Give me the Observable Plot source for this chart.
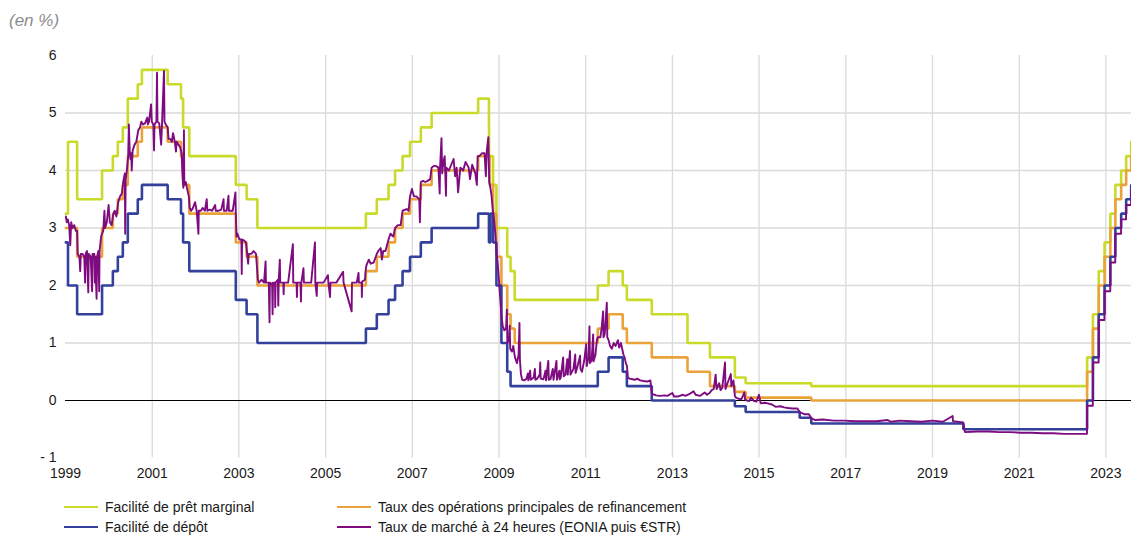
<!DOCTYPE html>
<html>
<head>
<meta charset="utf-8">
<script src="https://cdn.jsdelivr.net/npm/d3@7"></script>
<script src="https://cdn.jsdelivr.net/npm/@observablehq/plot@0.6"></script>
<style>
  body { margin: 0; background: #fff; font-family: "Liberation Sans", Arial, sans-serif; }
  #unit { height: 35px; font-style: italic; color: #8c8c8c; font-size: 17px; line-height: 42px; padding-left: 9px; box-sizing: border-box; }
  #chart svg { display: block; }
  #legend { position: relative; height: 44px; }
  .item { position: absolute; display: flex; align-items: center; font-size: 14px; color: #1a1a1a; white-space: nowrap; height: 20px; }
  .sw { width: 34px; height: 2.5px; margin-right: 7px; }
</style>
</head>
<body>
<div id="unit">(en %)</div>
<div id="chart"></div>
<div id="legend"></div>
<script>
// ---- Data (ECB key rates, %) ----
const seriesNames = [
  "Facilité de prêt marginal",
  "Taux des opérations principales de refinancement",
  "Facilité de dépôt",
  "Taux de marché à 24 heures (EONIA puis €STR)"
];
const seriesColors = ["#c9da2b", "#e9a33a", "#33419c", "#7e0b80"];

const marginalLending = [
  ["1999-01-04",3.25],["1999-01-22",4.50],["1999-04-09",3.50],["1999-11-05",4.00],["2000-02-04",4.25],
  ["2000-03-17",4.50],["2000-04-28",4.75],["2000-06-09",5.25],["2000-09-01",5.50],["2000-10-06",5.75],
  ["2001-05-11",5.50],["2001-08-31",5.25],["2001-09-18",4.75],["2001-11-09",4.25],["2002-12-06",3.75],
  ["2003-03-07",3.50],["2003-06-06",3.00],["2005-12-06",3.25],["2006-03-08",3.50],["2006-06-15",3.75],
  ["2006-08-09",4.00],["2006-10-11",4.25],["2006-12-13",4.50],["2007-03-14",4.75],["2007-06-13",5.00],
  ["2008-07-09",5.25],["2008-10-08",4.75],["2008-10-09",4.25],["2008-11-12",3.75],["2008-12-10",3.00],
  ["2009-03-11",2.50],["2009-04-08",2.25],["2009-05-13",1.75],["2011-04-13",2.00],["2011-07-13",2.25],
  ["2011-11-09",2.00],["2011-12-14",1.75],["2012-07-11",1.50],["2013-05-08",1.00],["2013-11-13",0.75],
  ["2014-06-11",0.40],["2014-09-10",0.30],["2016-03-16",0.25],["2022-07-27",0.75],["2022-09-14",1.50],
  ["2022-11-02",2.25],["2022-12-21",2.75],["2023-02-08",3.25],["2023-03-22",3.75],["2023-05-10",4.00],
  ["2023-06-21",4.25],["2023-08-02",4.50],["2023-08-05",4.50]
];

const mainRefi = [
  ["1999-01-04",3.00],["1999-04-09",2.50],["1999-11-05",3.00],["2000-02-04",3.25],["2000-03-17",3.50],
  ["2000-04-28",3.75],["2000-06-09",4.25],["2000-09-01",4.50],["2000-10-06",4.75],["2001-05-11",4.50],
  ["2001-08-31",4.25],["2001-09-18",3.75],["2001-11-09",3.25],["2002-12-06",2.75],["2003-03-07",2.50],
  ["2003-06-06",2.00],["2005-12-06",2.25],["2006-03-08",2.50],["2006-06-15",2.75],["2006-08-09",3.00],
  ["2006-10-11",3.25],["2006-12-13",3.50],["2007-03-14",3.75],["2007-06-13",4.00],["2008-07-09",4.25],
  ["2008-10-15",3.75],["2008-11-12",3.25],["2008-12-10",2.50],["2009-01-21",2.00],["2009-03-11",1.50],
  ["2009-04-08",1.25],["2009-05-13",1.00],["2011-04-13",1.25],["2011-07-13",1.50],["2011-11-09",1.25],
  ["2011-12-14",1.00],["2012-07-11",0.75],["2013-05-08",0.50],["2013-11-13",0.25],["2014-06-11",0.15],
  ["2014-09-10",0.05],["2016-03-16",0.00],["2022-07-27",0.50],["2022-09-14",1.25],["2022-11-02",2.00],
  ["2022-12-21",2.50],["2023-02-08",3.00],["2023-03-22",3.50],["2023-05-10",3.75],["2023-06-21",4.00],
  ["2023-08-02",4.25],["2023-08-05",4.25]
];

const depositFacility = [
  ["1999-01-04",2.75],["1999-01-22",2.00],["1999-04-09",1.50],["1999-11-05",2.00],["2000-02-04",2.25],
  ["2000-03-17",2.50],["2000-04-28",2.75],["2000-06-09",3.25],["2000-09-01",3.50],["2000-10-06",3.75],
  ["2001-05-11",3.50],["2001-08-31",3.25],["2001-09-18",2.75],["2001-11-09",2.25],["2002-12-06",1.75],
  ["2003-03-07",1.50],["2003-06-06",1.00],["2005-12-06",1.25],["2006-03-08",1.50],["2006-06-15",1.75],
  ["2006-08-09",2.00],["2006-10-11",2.25],["2006-12-13",2.50],["2007-03-14",2.75],["2007-06-13",3.00],
  ["2008-07-09",3.25],["2008-10-08",2.75],["2008-10-20",3.25],["2008-11-12",2.75],["2008-12-10",2.00],
  ["2009-01-21",1.00],["2009-03-11",0.50],["2009-04-08",0.25],["2011-04-13",0.50],["2011-07-13",0.75],
  ["2011-11-09",0.50],["2011-12-14",0.25],["2012-07-11",0.00],["2014-06-11",-0.10],["2014-09-10",-0.20],
  ["2015-12-09",-0.30],["2016-03-16",-0.40],["2019-09-18",-0.50],["2022-07-27",0.00],["2022-09-14",0.75],
  ["2022-11-02",1.50],["2022-12-21",2.00],["2023-02-08",2.50],["2023-03-22",3.00],["2023-05-10",3.25],
  ["2023-06-21",3.50],["2023-08-02",3.75],["2023-08-05",3.75]
];

const overnightRate = [
  ["1999-01-04",3.20],["1999-01-12",3.10],["1999-01-20",3.15],["1999-02-01",3.05],["1999-02-10",2.70],
  ["1999-02-18",3.10],["1999-03-01",3.00],["1999-03-15",3.05],["1999-03-30",2.95],["1999-04-09",2.95],
  ["1999-04-14",2.55],["1999-04-28",2.50],["1999-05-05",2.25],["1999-05-10",2.55],["1999-05-25",2.55],
  ["1999-06-08",2.50],["1999-06-15",2.05],["1999-06-20",2.55],["1999-07-01",2.60],["1999-07-12",1.88],
  ["1999-07-16",2.55],["1999-08-01",2.50],["1999-08-13",1.90],["1999-08-17",2.55],["1999-09-01",2.55],
  ["1999-09-05",2.05],["1999-09-08",2.50],["1999-09-20",1.77],["1999-09-24",2.50],["1999-10-05",2.60],
  ["1999-10-12",1.90],["1999-10-15",2.60],["1999-10-28",2.85],["1999-11-05",2.90],["1999-11-15",2.95],
  ["1999-11-25",3.30],["1999-12-01",3.00],["1999-12-15",3.10],["1999-12-30",3.40],["2000-01-10",3.10],
  ["2000-01-25",3.05],["2000-02-08",3.25],["2000-02-20",3.30],["2000-03-05",3.20],["2000-03-20",3.45],
  ["2000-04-05",3.55],["2000-04-20",3.60],["2000-05-01",3.80],["2000-05-15",3.95],["2000-05-18",2.90],
  ["2000-05-22",3.85],["2000-06-01",4.00],["2000-06-12",4.25],["2000-06-18",4.80],["2000-06-25",4.35],
  ["2000-07-01",4.20],["2000-07-08",4.30],["2000-07-12",4.00],["2000-07-20",4.35],["2000-08-05",4.45],
  ["2000-08-20",4.50],["2000-09-05",4.70],["2000-09-20",4.75],["2000-10-01",4.85],["2000-10-15",4.80],
  ["2000-11-01",4.82],["2000-11-20",4.92],["2000-11-25",4.80],["2000-12-05",4.85],["2000-12-22",5.15],
  ["2000-12-28",4.85],["2001-01-10",4.80],["2001-01-16",4.35],["2001-01-20",4.80],["2001-02-05",4.85],
  ["2001-02-10",5.70],["2001-02-14",4.85],["2001-03-01",4.82],["2001-03-17",4.45],["2001-03-25",4.85],
  ["2001-04-10",5.73],["2001-04-14",4.85],["2001-04-25",4.80],["2001-05-11",4.75],["2001-05-18",4.55],
  ["2001-06-01",4.55],["2001-06-15",4.50],["2001-06-25",4.65],["2001-07-10",4.50],["2001-07-20",4.33],
  ["2001-07-25",4.50],["2001-08-10",4.45],["2001-08-25",4.40],["2001-09-05",4.30],["2001-09-12",3.95],
  ["2001-09-20",3.70],["2001-09-25",4.70],["2001-09-28",3.75],["2001-10-10",3.80],["2001-10-25",3.65],
  ["2001-11-05",3.55],["2001-11-12",3.35],["2001-11-25",3.30],["2001-12-10",3.35],["2001-12-28",3.45],
  ["2002-01-10",3.30],["2002-01-25",2.90],["2002-01-28",3.30],["2002-02-15",3.30],["2002-03-01",3.35],
  ["2002-03-20",3.30],["2002-04-05",3.50],["2002-04-10",3.30],["2002-05-01",3.32],["2002-05-20",3.30],
  ["2002-06-15",3.40],["2002-06-20",3.30],["2002-07-15",3.30],["2002-08-05",3.32],["2002-08-25",3.50],
  ["2002-08-28",3.30],["2002-09-20",3.30],["2002-10-05",3.56],["2002-10-09",3.30],["2002-11-10",3.30],
  ["2002-12-03",3.62],["2002-12-06",3.25],["2002-12-12",2.85],["2002-12-20",2.90],["2003-01-05",2.80],
  ["2003-01-22",2.80],["2003-01-25",2.20],["2003-01-28",2.80],["2003-02-15",2.78],["2003-03-01",2.75],
  ["2003-03-12",2.55],["2003-03-20",2.38],["2003-03-25",2.55],["2003-04-15",2.55],["2003-05-05",2.60],
  ["2003-05-25",2.55],["2003-06-10",2.10],["2003-06-20",2.05],["2003-07-10",2.10],["2003-08-01",2.05],
  ["2003-08-14",2.42],["2003-08-17",2.05],["2003-09-10",2.05],["2003-09-16",1.36],["2003-09-19",2.05],
  ["2003-10-08",2.02],["2003-10-12",1.50],["2003-10-15",2.05],["2003-11-01",2.05],["2003-11-03",1.62],
  ["2003-11-06",2.05],["2003-11-25",2.10],["2003-11-29",1.65],["2003-12-02",2.05],["2003-12-12",2.45],
  ["2003-12-15",2.05],["2004-01-10",2.05],["2004-01-13",1.85],["2004-01-16",2.05],["2004-02-20",2.05],
  ["2004-03-31",2.72],["2004-04-03",2.05],["2004-05-01",2.05],["2004-05-04",1.80],["2004-05-07",2.05],
  ["2004-06-03",2.05],["2004-06-07",1.72],["2004-06-10",2.05],["2004-06-28",2.30],["2004-07-02",2.05],
  ["2004-09-01",2.05],["2004-10-03",2.75],["2004-10-06",2.05],["2004-10-18",1.82],["2004-10-21",2.05],
  ["2004-12-15",2.05],["2005-01-20",2.18],["2005-01-24",2.05],["2005-02-07",1.80],["2005-02-10",2.05],
  ["2005-04-01",2.05],["2005-05-28",2.24],["2005-06-01",2.05],["2005-08-08",1.55],["2005-08-11",2.05],
  ["2005-09-20",2.05],["2005-10-05",2.22],["2005-10-08",2.05],["2005-11-01",2.05],["2005-11-02",1.80],
  ["2005-11-05",2.07],["2005-11-28",2.10],["2005-12-06",2.30],["2005-12-12",2.36],["2005-12-31",2.45],
  ["2006-01-15",2.38],["2006-02-10",2.40],["2006-03-08",2.55],["2006-03-20",2.60],["2006-04-10",2.65],
  ["2006-04-20",2.45],["2006-05-01",2.60],["2006-05-20",2.60],["2006-06-15",2.80],["2006-07-01",2.90],
  ["2006-07-25",2.85],["2006-08-09",3.00],["2006-09-01",3.05],["2006-09-25",3.05],["2006-10-11",3.30],
  ["2006-11-15",3.33],["2006-12-01",3.30],["2006-12-13",3.55],["2006-12-29",3.68],["2007-01-15",3.55],
  ["2007-02-05",3.55],["2007-03-01",3.50],["2007-03-06",3.10],["2007-03-14",3.80],["2007-04-01",3.82],
  ["2007-04-20",3.80],["2007-05-10",3.82],["2007-06-01",3.85],["2007-06-13",4.05],["2007-07-01",4.08],
  ["2007-07-20",4.08],["2007-08-09",4.05],["2007-08-20",3.60],["2007-08-23",4.05],["2007-09-04",4.56],
  ["2007-09-10",3.95],["2007-09-20",4.15],["2007-10-01",4.25],["2007-10-12",3.56],["2007-10-15",4.05],
  ["2007-11-05",4.00],["2007-11-25",4.10],["2007-12-15",4.20],["2007-12-28",3.90],["2008-01-10",4.05],
  ["2008-01-22",3.62],["2008-02-10",4.05],["2008-03-05",4.00],["2008-03-25",4.15],["2008-04-20",4.05],
  ["2008-05-01",3.85],["2008-05-20",4.10],["2008-06-15",3.95],["2008-06-28",3.75],["2008-07-05",4.25],
  ["2008-07-20",4.25],["2008-08-10",4.30],["2008-09-01",4.30],["2008-09-12",3.90],["2008-09-20",4.35],
  ["2008-10-03",4.58],["2008-10-10",3.80],["2008-10-20",3.70],["2008-10-30",3.56],["2008-11-10",3.30],
  ["2008-11-20",3.15],["2008-12-01",2.90],["2008-12-10",2.60],["2008-12-20",2.40],["2008-12-31",2.10],
  ["2009-01-10",1.80],["2009-01-22",1.45],["2009-02-01",1.30],["2009-02-15",1.22],["2009-03-01",1.25],
  ["2009-03-08",1.58],["2009-03-12",1.00],["2009-03-25",1.05],["2009-04-01",1.30],["2009-04-05",0.90],
  ["2009-04-20",0.85],["2009-05-01",0.95],["2009-05-15",0.75],["2009-06-01",0.65],["2009-06-15",0.80],
  ["2009-06-22",1.35],["2009-06-26",0.70],["2009-07-05",0.45],["2009-07-15",0.36],["2009-08-01",0.35],
  ["2009-08-20",0.38],["2009-09-01",0.47],["2009-09-05",0.35],["2009-09-20",0.52],["2009-09-25",0.36],
  ["2009-10-20",0.40],["2009-10-30",0.55],["2009-11-03",0.36],["2009-11-15",0.37],["2009-12-10",0.45],
  ["2009-12-14",0.66],["2009-12-18",0.38],["2010-01-10",0.37],["2010-01-28",0.52],["2010-02-01",0.35],
  ["2010-02-20",0.69],["2010-02-24",0.36],["2010-03-10",0.37],["2010-03-30",0.55],["2010-04-05",0.36],
  ["2010-04-30",0.69],["2010-05-04",0.36],["2010-05-25",0.52],["2010-05-28",0.37],["2010-06-05",0.40],
  ["2010-06-25",0.75],["2010-06-30",0.42],["2010-07-15",0.45],["2010-07-30",0.72],["2010-08-03",0.45],
  ["2010-08-10",0.60],["2010-08-22",0.86],["2010-08-26",0.45],["2010-09-20",0.55],["2010-10-05",0.80],
  ["2010-10-08",0.48],["2010-10-25",0.60],["2010-11-15",0.78],["2010-11-18",0.55],["2010-12-01",0.50],
  ["2010-12-20",0.70],["2011-01-05",0.98],["2011-01-10",0.60],["2011-01-25",0.75],["2011-02-02",1.29],
  ["2011-02-06",0.65],["2011-02-20",0.70],["2011-03-05",1.15],["2011-03-08",0.68],["2011-03-25",0.80],
  ["2011-04-05",1.05],["2011-04-13",1.10],["2011-05-05",1.10],["2011-05-15",1.25],["2011-05-28",1.55],
  ["2011-05-31",1.10],["2011-06-10",1.15],["2011-06-28",1.70],["2011-07-02",1.10],["2011-07-13",1.05],
  ["2011-07-25",0.95],["2011-08-10",0.90],["2011-08-25",1.00],["2011-09-10",0.95],["2011-09-30",1.05],
  ["2011-10-10",0.92],["2011-10-25",1.00],["2011-11-15",0.80],["2011-11-25",0.75],["2011-12-05",0.65],
  ["2011-12-15",0.60],["2011-12-22",0.40],["2012-01-05",0.38],["2012-01-30",0.37],["2012-02-20",0.36],
  ["2012-03-10",0.38],["2012-04-05",0.35],["2012-05-01",0.34],["2012-06-01",0.33],["2012-06-29",0.35],
  ["2012-07-11",0.12],["2012-07-20",0.11],["2012-08-15",0.09],["2012-09-20",0.08],["2012-10-25",0.09],
  ["2012-11-20",0.08],["2012-12-31",0.13],["2013-01-15",0.07],["2013-02-20",0.07],["2013-03-30",0.10],
  ["2013-04-20",0.08],["2013-05-30",0.12],["2013-06-28",0.16],["2013-07-15",0.10],["2013-08-20",0.08],
  ["2013-09-30",0.14],["2013-10-20",0.10],["2013-11-10",0.13],["2013-11-28",0.18],["2013-12-15",0.20],
  ["2013-12-31",0.45],["2014-01-08",0.20],["2014-01-30",0.30],["2014-02-10",0.18],["2014-02-25",0.22],
  ["2014-03-20",0.66],["2014-03-24",0.20],["2014-04-10",0.30],["2014-05-08",0.46],["2014-05-12",0.25],
  ["2014-05-30",0.35],["2014-06-11",0.08],["2014-06-20",0.05],["2014-07-15",0.03],["2014-08-05",0.02],
  ["2014-08-30",0.14],["2014-09-05",0.02],["2014-09-20",0.00],["2014-10-10",-0.01],["2014-10-25",0.05],
  ["2014-11-20",-0.01],["2014-12-10",-0.02],["2014-12-31",0.10],["2015-01-15",-0.05],["2015-02-20",-0.04],
  ["2015-03-15",-0.05],["2015-04-20",-0.07],["2015-05-20",-0.11],["2015-06-30",-0.10],["2015-07-30",-0.12],
  ["2015-09-01",-0.13],["2015-10-10",-0.14],["2015-11-20",-0.14],["2015-12-10",-0.20],["2016-01-20",-0.24],
  ["2016-02-25",-0.24],["2016-03-16",-0.31],["2016-04-20",-0.34],["2016-06-20",-0.33],["2016-09-20",-0.35],
  ["2016-12-20",-0.35],["2017-03-20",-0.36],["2017-06-20",-0.36],["2017-09-20",-0.36],["2017-12-20",-0.34],
  ["2018-01-15",-0.37],["2018-03-31",-0.35],["2018-06-30",-0.36],["2018-09-30",-0.37],["2018-12-31",-0.35],
  ["2019-03-30",-0.37],["2019-06-20",-0.27],["2019-06-23",-0.36],["2019-09-17",-0.38],["2019-10-01",-0.54],
  ["2019-10-02",-0.55],["2020-01-15",-0.54],["2020-04-15",-0.54],["2020-07-15",-0.55],["2020-10-15",-0.55],
  ["2021-01-15",-0.56],["2021-04-15",-0.56],["2021-07-15",-0.57],["2021-10-15",-0.57],["2022-01-15",-0.58],
  ["2022-04-15",-0.58],["2022-07-26",-0.58],["2022-07-27",-0.09],["2022-09-13",-0.09],["2022-09-14",0.66],
  ["2022-11-01",0.66],["2022-11-02",1.40],["2022-12-20",1.40],["2022-12-21",1.90],["2023-02-07",1.90],
  ["2023-02-08",2.40],["2023-03-21",2.40],["2023-03-22",2.90],["2023-05-09",2.90],["2023-05-10",3.15],
  ["2023-06-20",3.15],["2023-06-21",3.40],["2023-08-01",3.40],["2023-08-02",3.65],["2023-08-05",3.65]
];

const yTicks = [-1, 0, 1, 2, 3, 4, 5, 6];
const yGrid = [1, 2, 3, 4, 5];
const xTickYears = [1999, 2001, 2003, 2005, 2007, 2009, 2011, 2013, 2015, 2017, 2019, 2021, 2023];
const xGridYears = [2001, 2003, 2005, 2007, 2009, 2011, 2013, 2015, 2017, 2019, 2021, 2023];
const xDomain = ["1999-01-01", "2023-08-05"];

// ---- Build ----
const rows = arr => arr.map(([d, v]) => ({date: new Date(d), value: v}));
const yearDate = y => new Date(Date.UTC(y, 0, 1));

const chart = Plot.plot({
  width: 1131,
  height: 456,
  marginLeft: 65,
  marginRight: 0,
  marginTop: 20,
  marginBottom: 33.5,
  style: {fontFamily: '"Liberation Sans", Arial, sans-serif', fontSize: "14px", color: "#1a1a1a", background: "#fff"},
  x: {type: "utc", domain: xDomain.map(d => new Date(d))},
  y: {domain: [-1, 6]},
  marks: [
    Plot.ruleX(xGridYears.map(yearDate), {stroke: "#dadada", strokeWidth: 1.3}),
    Plot.ruleY(yGrid, {stroke: "#dadada", strokeWidth: 1.3}),
    Plot.ruleY([0], {stroke: "#000", strokeWidth: 1.2}),
    Plot.line(rows(marginalLending), {x: "date", y: "value", curve: "step-after", stroke: seriesColors[0], strokeWidth: 2.6, strokeLinejoin: "miter"}),
    Plot.line(rows(mainRefi), {x: "date", y: "value", curve: "step-after", stroke: seriesColors[1], strokeWidth: 2.6, strokeLinejoin: "miter"}),
    Plot.line(rows(depositFacility), {x: "date", y: "value", curve: "step-after", stroke: seriesColors[2], strokeWidth: 2.6, strokeLinejoin: "miter"}),
    Plot.line(rows(overnightRate), {x: "date", y: "value", stroke: seriesColors[3], strokeWidth: 1.9}),
    Plot.axisY({ticks: yTicks, tickSize: 0, tickPadding: 9, label: null,
      tickFormat: d => d < 0 ? "- " + Math.abs(d) : String(d)}),
    Plot.axisX({ticks: xTickYears.map(yearDate), tickSize: 0, tickPadding: 10, label: null,
      tickFormat: d => String(d.getUTCFullYear())})
  ]
});
document.getElementById("chart").appendChild(chart);

// ---- Legend ----
const legendPos = [
  {left: 64, top: 6}, {left: 337, top: 6}, {left: 64, top: 26}, {left: 337, top: 26}
];
const legend = document.getElementById("legend");
seriesNames.forEach((name, k) => {
  const item = document.createElement("div");
  item.className = "item";
  item.style.left = legendPos[k].left + "px";
  item.style.top = legendPos[k].top + "px";
  const sw = document.createElement("span");
  sw.className = "sw";
  sw.style.background = seriesColors[k];
  const label = document.createElement("span");
  label.textContent = name;
  item.appendChild(sw);
  item.appendChild(label);
  legend.appendChild(item);
});
</script>
</body>
</html>
